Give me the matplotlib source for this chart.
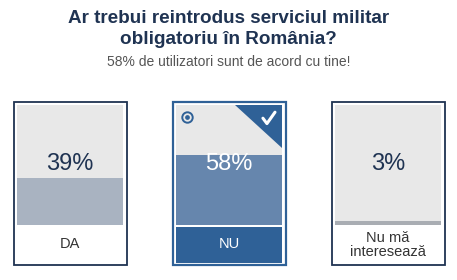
import matplotlib.pyplot as plt
from matplotlib.patches import Rectangle, Polygon

# ----------------------------
# Data
# ----------------------------
labels = ["DA", "NU", "Nu mă\ninteresează"]
values = [39, 58, 3]
selected = 1  # the user's answer

title = "Ar trebui reintrodus serviciul militar\nobligatoriu în România?"
subtitle = "58% de utilizatori sunt de acord cu tine!"

# ----------------------------
# Style
# ----------------------------
W, H = 457, 280
NAVY = "#1f3352"
BLUE = "#2f6197"
AREA_BG = "#e8e8e8"
bar_colors = ["#a9b3c1", "#6686ad", "#a9adb3"]
card_left = [17, 176, 335]
card_width = 106
area_top, area_bottom, label_bottom = 105, 225, 262

plt.rcParams["font.family"] = ["Liberation Sans", "DejaVu Sans"]

fig = plt.figure(figsize=(W / 100, H / 100), dpi=100)
ax = fig.add_axes([0, 0, 1, 1])
ax.set_xlim(0, W)
ax.set_ylim(H, 0)
ax.axis("off")

ax.text(W / 2, 29, title, ha="center", va="center", fontsize=13.6,
        fontweight="bold", color=NAVY, linespacing=1.35)
ax.text(W / 2, 62, subtitle, ha="center", va="center", fontsize=10,
        color="#555555")


def fig_box(x0, y0, x1, y1):
    return [x0 / W, 1 - y1 / H, (x1 - x0) / W, (y1 - y0) / H]


for i, (lab, val) in enumerate(zip(labels, values)):
    x0 = card_left[i]
    x1 = x0 + card_width
    sel = i == selected
    border = BLUE if sel else NAVY

    # outer border
    ax.add_patch(Rectangle((x0 - 3.5, area_top - 3.5), card_width + 7,
                           label_bottom - area_top + 6.5, fill=False,
                           edgecolor=border, lw=1.6 if sel else 1.3))
    # label block
    if sel:
        ax.add_patch(Rectangle((x0, area_bottom + 2), card_width,
                               label_bottom - area_bottom - 1.5,
                               color=BLUE, lw=0))
    ax.text((x0 + x1) / 2, (area_bottom + label_bottom) / 2 + 1, lab,
            ha="center", va="center", fontsize=10.5,
            color="white" if sel else "#333333", linespacing=1.0)

    # bar area
    bax = fig.add_axes(fig_box(x0, area_top, x1, area_bottom))
    bax.set_facecolor(AREA_BG)
    bax.bar([0], [val], width=1, color=bar_colors[i], lw=0)
    bax.set_xlim(-0.5, 0.5)
    bax.set_ylim(0, 100)
    bax.set_xticks([])
    bax.set_yticks([])
    for sp in bax.spines.values():
        sp.set_visible(False)
    bax.text(0, 50.5, f"{val}%", ha="center", va="center", fontsize=17,
             color="white" if sel else NAVY)

    if sel:
        # corner triangle with check mark
        bax.add_patch(Polygon([(0.057, 100), (0.5, 100), (0.5, 64)],
                              closed=True, color=BLUE, lw=0))
        bax.plot([0.32, 0.358, 0.434], [89, 84.5, 94], color="white",
                 lw=2.2, solid_capstyle="round", solid_joinstyle="round")
        # radio icon
        bax.plot([-0.396], [90], "o", mfc="none", mec=BLUE, mew=1.4, ms=7.5)
        bax.plot([-0.396], [90], "o", color=BLUE, ms=2.4)

fig.savefig("out.png", dpi=100)
